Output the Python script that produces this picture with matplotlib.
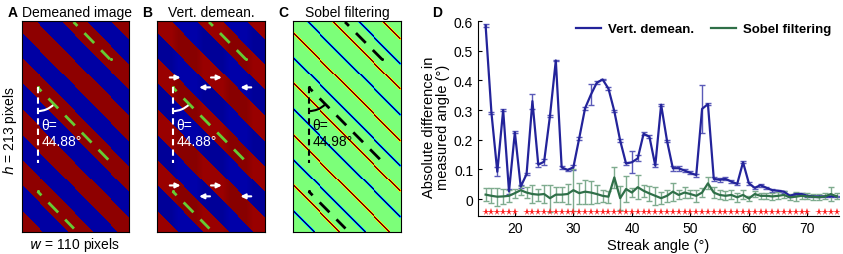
import numpy as np
import matplotlib
matplotlib.use("Agg")
import matplotlib.pyplot as plt
from matplotlib.patches import Arc
from matplotlib.lines import Line2D

plt.rcParams['font.family'] = ['Liberation Sans', 'DejaVu Sans']
plt.rcParams['font.size'] = 10

# --- panel D data -----------------------------------------------------------
angles = list(range(15, 76))
vert_mean = [0.585, 0.290, 0.092, 0.300, 0.026, 0.225, 0.042, 0.084, 0.330, 0.116,
             0.126, 0.280, 0.467, 0.107, 0.098, 0.107, 0.205, 0.306, 0.352, 0.392,
             0.403, 0.372, 0.296, 0.197, 0.120, 0.124, 0.137, 0.220, 0.210, 0.113,
             0.318, 0.197, 0.104, 0.104, 0.096, 0.088, 0.081, 0.304, 0.320, 0.068,
             0.065, 0.068, 0.059, 0.051, 0.124, 0.053, 0.038, 0.047, 0.038, 0.030,
             0.028, 0.025, 0.011, 0.017, 0.017, 0.011, 0.009, 0.009, 0.009, 0.009,
             0.009]
vert_err = [0.005, 0.003, 0.015, 0.003, 0.008, 0.003, 0.005, 0.004, 0.025, 0.007,
            0.010, 0.003, 0.003, 0.005, 0.005, 0.008, 0.005, 0.005, 0.035, 0.005,
            0.003, 0.004, 0.003, 0.004, 0.006, 0.037, 0.010, 0.005, 0.005, 0.005,
            0.003, 0.003, 0.008, 0.008, 0.005, 0.005, 0.005, 0.080, 0.003, 0.006,
            0.007, 0.005, 0.004, 0.004, 0.003, 0.005, 0.004, 0.005, 0.003, 0.005,
            0.004, 0.003, 0.003, 0.003, 0.003, 0.003, 0.003, 0.003, 0.003, 0.003,
            0.003]
sobel_mean = [0.015, 0.011, 0.008, 0.009, 0.011, 0.020, 0.030, 0.022, 0.017, 0.015,
              0.017, 0.003, 0.015, 0.015, 0.017, 0.030, 0.020, 0.025, 0.022, 0.017,
              0.011, 0.008, 0.073, 0.003, 0.034, 0.022, 0.040, 0.028, 0.019, 0.011,
              0.003, 0.011, 0.025, 0.014, 0.022, 0.017, 0.011, 0.022, 0.053, 0.022,
              0.014, 0.011, 0.014, 0.006, 0.014, 0.002, 0.017, 0.011, 0.011, 0.009,
              0.011, 0.014, 0.006, 0.008, 0.011, 0.009, 0.008, 0.006, 0.009, 0.017,
              0.009]
sobel_err = [0.022, 0.025, 0.030, 0.025, 0.020, 0.015, 0.015, 0.020, 0.030, 0.020,
             0.030, 0.045, 0.025, 0.025, 0.035, 0.070, 0.035, 0.040, 0.040, 0.030,
             0.020, 0.020, 0.035, 0.040, 0.045, 0.015, 0.040, 0.020, 0.025, 0.030,
             0.020, 0.020, 0.030, 0.015, 0.020, 0.015, 0.020, 0.015, 0.020, 0.020,
             0.015, 0.015, 0.015, 0.015, 0.015, 0.010, 0.010, 0.010, 0.010, 0.012,
             0.012, 0.012, 0.010, 0.015, 0.010, 0.010, 0.010, 0.010, 0.010, 0.025,
             0.010]
signif_angles = list(range(15, 21)) + list(range(22, 71)) + list(range(72, 76))

# --- synthetic streak image ------------------------------------------------
img_w, img_h = 110, 213
stripe_period = 51.5
theta_a, theta_c = 44.88, 44.98

W, H = 843, 255
fig = plt.figure(figsize=(W / 100, H / 100), dpi=100)


def px_axes(x0, y0, x1, y1):
    return fig.add_axes([x0 / W, 1 - y1 / H, (x1 - x0) / W, (y1 - y0) / H])


yy, xx = np.mgrid[0:img_h, 0:img_w]
phase = np.mod(xx - yy, stripe_period)
stripes = np.where((phase >= 15) & (phase < 40.5), -1.0, 1.0)
vert_dm = stripes - stripes.mean(axis=0, keepdims=True)

pad = np.pad(stripes, 1, mode='edge')
sobel = (pad[:-2, 2:] + 2 * pad[1:-1, 2:] + pad[2:, 2:]
         - pad[:-2, :-2] - 2 * pad[1:-1, :-2] - pad[2:, :-2])


def red_blue(img):
    # dark red / navy like the ends of jet, with a little shading from the values
    rgb = np.zeros(img.shape + (3,))
    hi = img > 0
    rgb[..., 0] = np.where(hi, np.clip(0.56 - 1.0 * (img - 1), 0.45, 0.68), 0)
    rgb[..., 2] = np.where(hi, 0, np.clip(0.64 + 1.0 * (img + 1), 0.52, 0.78))
    return rgb


def draw_image(ax, img, dash_col, text_col, theta, cmap=None, vmax=None):
    if cmap is None:
        ax.imshow(red_blue(img), extent=(0, img_w, img_h, 0), aspect='auto',
                  interpolation='nearest')
    else:
        ax.imshow(img, cmap=cmap, vmin=-vmax, vmax=vmax, extent=(0, img_w, img_h, 0),
                  aspect='auto', interpolation='nearest')
    ax.set_xticks([])
    ax.set_yticks([])
    for s in ax.spines.values():
        s.set_linewidth(0.8)
    ax0 = (16, 67)
    ang = np.radians(theta)
    d = np.array([np.sin(ang), np.cos(ang)])
    # streak lines
    for start, length in [((53, 1), 53), (ax0, 108), ((16, 172), 53)]:
        p0 = np.array(start, float)
        p1 = p0 + d * length
        ax.plot([p0[0], p1[0]], [p0[1], p1[1]], color=dash_col, lw=2,
                linestyle=(3, (5, 3.6)), solid_capstyle='butt')
    for pt in [ax0, (16, 172), (91, 38)]:
        ax.plot([pt[0]], [pt[1]], marker='o', ms=2.2, color=dash_col, mew=0)
    # vertical reference and angle arc
    ax.plot([ax0[0], ax0[0]], [ax0[1], 143], color=text_col, lw=1.5,
            linestyle=(0, (3, 2)))
    ax.add_patch(Arc(ax0, 48, 48, theta1=90 - theta, theta2=90, color=text_col, lw=1.5))
    ax.text(20, 105, 'θ=', color=text_col, fontsize=10, va='center', ha='left')
    ax.text(20, 121, f'{theta:.2f}°', color=text_col, fontsize=10, va='center', ha='left')
    ax.set_xlim(0, img_w)
    ax.set_ylim(img_h, 0)


axA = px_axes(22, 22, 129, 233)
draw_image(axA, stripes, '#66cc33', 'white', theta_a)
axB = px_axes(157, 22, 265, 233)
draw_image(axB, vert_dm, '#66cc33', 'white', theta_a)
for row_r, row_l in [(57, 67), (166, 177)]:
    for xr, xl in [(13, 43), (55, 85)]:
        axB.annotate('', xy=(xr + 11, row_r), xytext=(xr, row_r),
                     arrowprops=dict(arrowstyle='-|>', color='white', lw=1.5,
                                     mutation_scale=7, shrinkA=0, shrinkB=0))
        axB.annotate('', xy=(xl, row_l), xytext=(xl + 11, row_l),
                     arrowprops=dict(arrowstyle='-|>', color='white', lw=1.5,
                                     mutation_scale=7, shrinkA=0, shrinkB=0))
axC = px_axes(293, 22, 401, 233)
draw_image(axC, sobel, 'black', 'black', theta_c, cmap='jet',
           vmax=np.abs(sobel[1:-1, 1:-1]).max())


# titles
def ftext(x, y, s, **kw):
    fig.text(x / W, 1 - y / H, s, **kw)


ftext(8, 13, 'A', fontweight='bold', va='center', fontsize=10)
ftext(22, 13, 'Demeaned image', va='center', fontsize=10)
ftext(142, 13, 'B', fontweight='bold', va='center', fontsize=10)
ftext(168, 13, 'Vert. demean.', va='center', fontsize=10)
ftext(278, 13, 'C', fontweight='bold', va='center', fontsize=10)
ftext(305, 13, 'Sobel filtering', va='center', fontsize=10)
ftext(432, 13, 'D', fontweight='bold', va='center', fontsize=10)
ftext(10, 131, '$h$ = 213 pixels', rotation=90, ha='center', va='center', fontsize=10)
ftext(75, 245, '$w$ = 110 pixels', ha='center', va='center', fontsize=10)

# --- panel D ---------------------------------------------------------------
axD = px_axes(478, 22, 839, 217)
blue, blue_err = '#23239a', '#5a5ab8'
green, green_err = '#2f6f48', '#7eab8e'
axD.errorbar(angles, vert_mean, yerr=vert_err, color=blue, ecolor=blue_err, lw=1.6,
             elinewidth=1, capsize=2.5, capthick=1)
axD.errorbar(angles, sobel_mean, yerr=sobel_err, color=green, ecolor=green_err,
             lw=1.6, elinewidth=1, capsize=2.5, capthick=1)
axD.plot(signif_angles, [-0.045] * len(signif_angles), linestyle='none', marker='*',
         color='#ff2020', ms=5.5, mew=0)
axD.set_xlim(13.7, 75.4)
axD.set_ylim(-0.057, 0.6)
axD.set_yticks([0, 0.1, 0.2, 0.3, 0.4, 0.5, 0.6])
axD.set_yticklabels(['0', '0.1', '0.2', '0.3', '0.4', '0.5', '0.6'])
axD.set_xticks([20, 30, 40, 50, 60, 70])
axD.tick_params(direction='in', length=3, labelsize=10, width=0.8)
for side in ['top', 'right']:
    axD.spines[side].set_visible(False)
axD.spines['left'].set_linewidth(0.8)
axD.spines['bottom'].set_linewidth(0.8)
axD.set_xlabel('Streak angle (°)', fontsize=10.5, labelpad=2)
axD.set_ylabel('Absolute difference in\nmeasured angle (°)', fontsize=10.5, linespacing=1.0)
axD.yaxis.set_label_coords(-0.078, 0.46)
handles = [Line2D([], [], color=blue, lw=1.6), Line2D([], [], color=green, lw=1.6)]
axD.legend(handles, ['Vert. demean.', 'Sobel filtering'], loc='upper right',
           bbox_to_anchor=(1.0, 1.03), ncol=2, frameon=False, handlelength=1.9,
           columnspacing=1.3, handletextpad=0.5, borderaxespad=0.2,
           prop={'weight': 'bold', 'size': 9.5})

fig.savefig('out.png', dpi=100)
